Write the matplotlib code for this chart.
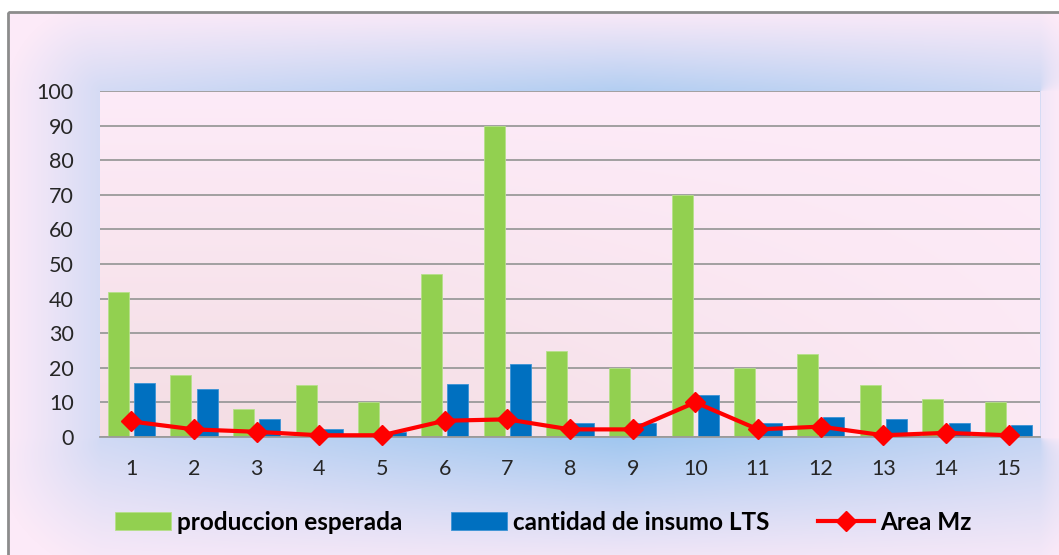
import numpy as np
import matplotlib
matplotlib.use('Agg')
import matplotlib.pyplot as plt
from matplotlib.patches import Rectangle

plt.rcParams['font.family'] = ['Lato', 'DejaVu Sans']

# datos
categorias = [str(i) for i in range(1, 16)]
produccion_esperada = [42, 18, 8, 15, 10, 47, 90, 25, 20, 70, 20, 24, 15, 11, 10]
cantidad_insumo = [15.5, 14, 5.2, 2.3, 1.5, 15.3, 21, 4, 4, 12, 4, 5.9, 5.2, 4, 3.4]
area_mz = [4.5, 2.2, 1.5, 0.5, 0.5, 4.7, 5.1, 2.2, 2.2, 10, 2.2, 3, 0.5, 1.2, 0.5]

W, H = 1059, 555
L, R, T, B = 100, 1040, 91, 437   # area de trazado en pixeles


def fondo_figura():
    # resplandor azul alrededor del area de trazado sobre fondo rosa
    yy, xx = np.mgrid[0:H, 0:W].astype(float)
    rosa = np.array([252, 234, 248]) / 255
    azul = np.array([160, 199, 240]) / 255
    d_left = np.clip(L - xx, 0, None)
    d_right = np.clip(xx - R, 0, None)
    d_top = np.clip(T - yy, 0, None)
    d_bot = np.clip(yy - B, 0, None)
    dist = np.sqrt((d_left + d_right) ** 2 + (d_top + d_bot) ** 2)
    cx = np.clip(1 - np.abs(xx - 620) / 600, 0, 1) ** 0.8
    uno = np.ones_like(xx)
    pesos = np.stack([d_bot, d_top, d_left, d_right]) + 1e-6
    amp = np.stack([0.35 + 0.65 * cx, 0.35 + 0.45 * cx, 0.42 * uno, 0.12 * uno])
    esc = np.stack([140 * uno, 85 * uno, 95 * uno, 20 * uno])
    a = (pesos * amp).sum(0) / pesos.sum(0)
    s = (pesos * esc).sum(0) / pesos.sum(0)
    w = a * np.clip(1 - dist / s, 0, 1) ** 1.1
    img = rosa * (1 - w[..., None]) + azul * w[..., None]
    img[:12, :] = 1
    img[:, :8] = 1
    return img


def fondo_trazado():
    yy, xx = np.mgrid[0:200, 0:400].astype(float)
    t = yy / 199
    h = np.clip(1.3 - xx / 399 * 1.1, 0.2, 1)
    arriba = np.array([253, 235, 248]) / 255
    abajo = np.array([244, 222, 228]) / 255
    k = (t * h)[..., None]
    return arriba * (1 - k) + abajo * k


fig = plt.figure(figsize=(W / 100, H / 100), dpi=100)
bg = fig.add_axes([0, 0, 1, 1], zorder=-10)
bg.imshow(fondo_figura(), aspect='auto', extent=(0, W, H, 0), interpolation='bilinear')
bg.set_xlim(0, W)
bg.set_ylim(H, 0)
bg.axis('off')
bg.add_patch(Rectangle((8, 12), W + 20, H + 20, fill=False, edgecolor='#8c8c8c', linewidth=2))

ax = fig.add_axes([L / W, (H - B) / H, (R - L) / W, (B - T) / H])
ax.patch.set_visible(False)
ax.imshow(fondo_trazado(), aspect='auto', extent=(0.5, 15.5, 0, 100), zorder=0)

x = np.arange(1, 16)
ancho = 0.335
b1 = ax.bar(x - 0.21, produccion_esperada, ancho, color='#92D050', edgecolor='#b6e08a', linewidth=0.6,
            label='produccion esperada', zorder=2)
b2 = ax.bar(x + 0.21, cantidad_insumo, ancho, color='#0070C0', edgecolor='#3b93d6', linewidth=0.6,
            label='cantidad de insumo LTS', zorder=2)
l1, = ax.plot(x, area_mz, color='#FF0000', linewidth=3, marker='D', markersize=10,
              label='Area Mz', zorder=4, clip_on=False)

ax.set_xlim(0.5, 15.5)
ax.set_ylim(0, 100)
ax.set_yticks(range(0, 101, 10))
ax.set_xticks(x)
ax.set_xticklabels(categorias)
ax.yaxis.grid(True, color='#9a9a9a', linewidth=1.3)
ax.set_axisbelow(True)
for s in ['left', 'right', 'top']:
    ax.spines[s].set_visible(False)
ax.spines['bottom'].set_color('#9a9a9a')
ax.spines['bottom'].set_linewidth(1.3)
ax.tick_params(axis='y', length=0, pad=19, labelsize=15.5, labelcolor='#262626')
ax.tick_params(axis='x', length=0, pad=16, labelsize=15.5, labelcolor='#262626')

fig.legend(handles=[b1, b2, l1], loc='center', bbox_to_anchor=(543 / W, 1 - 522 / H), ncol=3,
           frameon=False, prop={'weight': 'bold', 'size': 17.5}, handlelength=2.3, handleheight=0.8,
           handletextpad=0.25, columnspacing=2.0)

fig.savefig('out.png', dpi=100)
